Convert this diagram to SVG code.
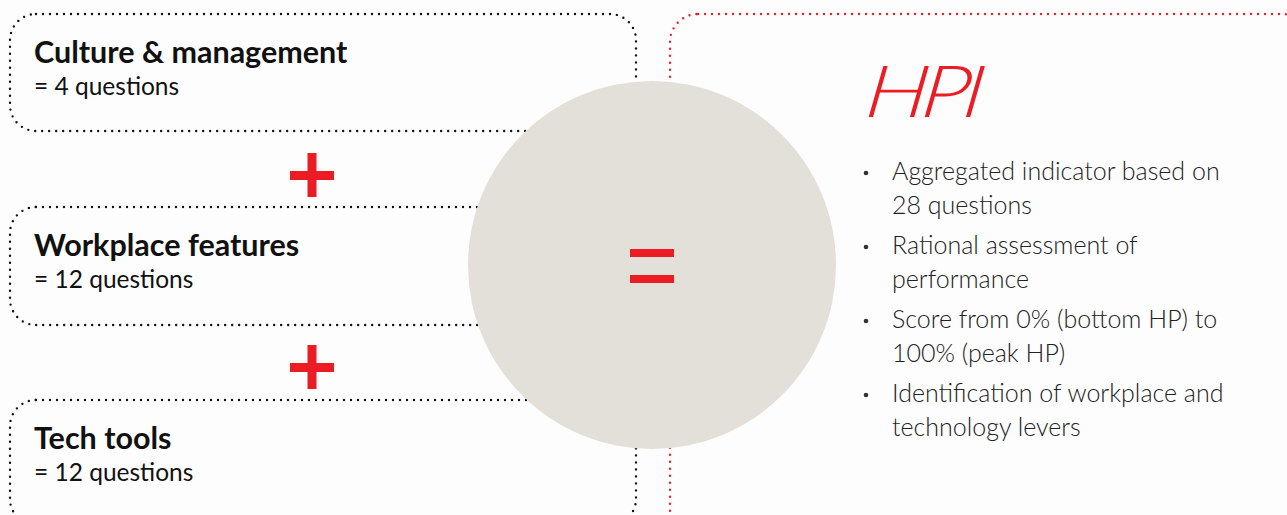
<svg xmlns="http://www.w3.org/2000/svg" width="1287" height="515" viewBox="0 0 1287 515">
<style>
.box{fill:none;stroke:#111;stroke-width:2.4;stroke-linecap:round;stroke-dasharray:0 7}
.rbox{fill:none;stroke:#e8202a;stroke-width:2.4;stroke-linecap:round;stroke-dasharray:0 7}
.title{font-family:Lato,"Open Sans",sans-serif;font-weight:700;font-size:30.5px;fill:#111}
.sub{font-family:Lato,"Open Sans",sans-serif;font-size:24.5px;fill:#111}
.bul{font-family:Lato,"Open Sans",sans-serif;font-weight:300;font-size:25px;fill:#222}
.red{fill:#ec1c24}
</style>
<rect width="1287" height="515" fill="#fdfdfd"/>
<g id="hpi-box"><rect class="rbox" x="670" y="14" width="640" height="540" rx="28"/></g>
<g id="culture"><rect class="box" x="10" y="14" width="626" height="117" rx="26"/>
<text class="title" x="34" y="63">Culture &amp; management</text>
<text class="sub" x="34" y="95">= 4 questions</text></g>
<g id="workplace"><rect class="box" x="10" y="207" width="626" height="118" rx="26"/>
<text class="title" x="34" y="256">Workplace features</text>
<text class="sub" x="34" y="288">= 12 questions</text></g>
<g id="tech"><rect class="box" x="10" y="400" width="626" height="125" rx="26"/>
<text class="title" x="34" y="449">Tech tools</text>
<text class="sub" x="34" y="481">= 12 questions</text></g>
<g id="result"><circle cx="652" cy="265" r="184" fill="#e3e0d9"/>
<rect class="red" x="630" y="249" width="44" height="8"/>
<rect class="red" x="630" y="275" width="44" height="8"/></g>
<g id="connectors">
<rect class="red" x="290" y="171" width="44" height="9"/><rect class="red" x="307.5" y="153" width="9" height="44"/>
<rect class="red" x="290" y="363" width="44" height="9"/><rect class="red" x="307.5" y="345" width="9" height="44"/>
</g>
<g id="hpi">
<text x="860" y="117" transform="skewX(-16)" transform-origin="860 117" font-family="Lato,sans-serif" font-size="72" font-weight="300" fill="#ec1c24" letter-spacing="-6" textLength="112" lengthAdjust="spacingAndGlyphs">HPI</text>
<g class="bul">
<circle cx="866" cy="173" r="2.3" fill="#333"/><text x="892" y="180">Aggregated indicator based on</text><text x="892" y="214">28 questions</text>
<circle cx="866" cy="247" r="2.3" fill="#333"/><text x="892" y="254">Rational assessment of</text><text x="892" y="288">performance</text>
<circle cx="866" cy="321" r="2.3" fill="#333"/><text x="892" y="328">Score from 0% (bottom HP) to</text><text x="892" y="362">100% (peak HP)</text>
<circle cx="866" cy="395" r="2.3" fill="#333"/><text x="892" y="402">Identification of workplace and</text><text x="892" y="436">technology levers</text>
</g></g>
</svg>
